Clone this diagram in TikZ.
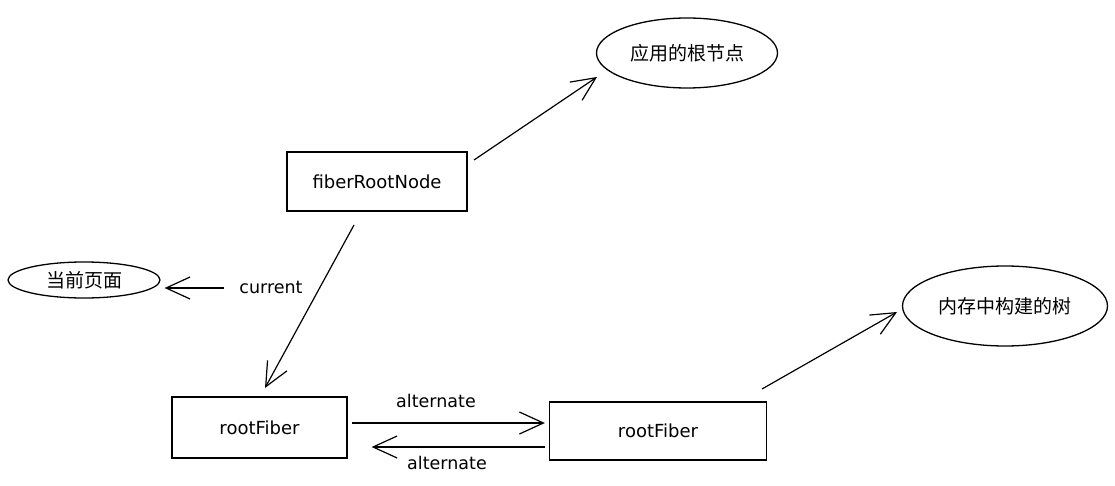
\documentclass[tikz,border=0pt]{standalone}
\usepackage{fontspec}
\setmainfont{DejaVu Sans}
\newfontfamily\cjk{Noto Sans CJK SC}
\usetikzlibrary{arrows.meta,shapes.geometric}
\begin{document}
\begin{tikzpicture}[x=1pt,y=-1pt,
  box/.style={draw,line width=1.3pt,rectangle,inner sep=0pt,font=\fontsize{18}{20}\selectfont},
  oval/.style={draw,line width=1.3pt,ellipse,inner sep=0pt,font=\cjk\fontsize{19}{22}\selectfont},
  conn/.style={line width=1.2pt,-{Straight Barb[length=24pt,width=22pt,line width=1.2pt]}},
  lbl/.style={font=\fontsize{17.5}{20}\selectfont}]
\useasboundingbox (0,0) rectangle (1115,486);
\node[box,minimum width=180pt,minimum height=59pt] (frn) at (377,181.5) {fiberRootNode};
\node[oval,minimum width=181pt,minimum height=70pt] (app) at (687,53) {应用的根节点};
\node[oval,minimum width=152pt,minimum height=36pt] (cur) at (84,280) {当前页面};
\node[oval,minimum width=205pt,minimum height=80pt] (mem) at (1005,306) {内存中构建的树};
\node[box,minimum width=175pt,minimum height=61pt] (rf1) at (259.5,427.5) {rootFiber};
\node[box,minimum width=217pt,minimum height=58pt] (rf2) at (658,431) {rootFiber};
\coordinate (curtail) at (228,288);
\coordinate (apptail) at (474,160);
\coordinate (apptip) at (597,77);
\coordinate (frnbot) at (354,225);
\coordinate (rf1top) at (265,388);
\coordinate (rf2top) at (762,389);
\coordinate (memtip) at (897,312);
\draw[conn] (apptail) -- (apptip);
\draw[conn,shorten <=4pt,shorten >=4pt] (curtail) -- (cur.east|-curtail);
\node[lbl] (curlbl) at (271,287) {current};
\draw[conn] (frnbot) -- (rf1top);
\draw[conn,shorten <=4pt,shorten >=4pt] (rf1.east|-0,423) -- (rf2.west|-0,423);
\node[lbl] (alt1) at (436,401) {alternate};
\draw[conn,shorten <=4pt,shorten >=24pt] (rf2.west|-0,447) -- (rf1.east|-0,447);
\node[lbl] (alt2) at (447,463) {alternate};
\draw[conn] (rf2top) -- (memtip);
\end{tikzpicture}
\end{document}
